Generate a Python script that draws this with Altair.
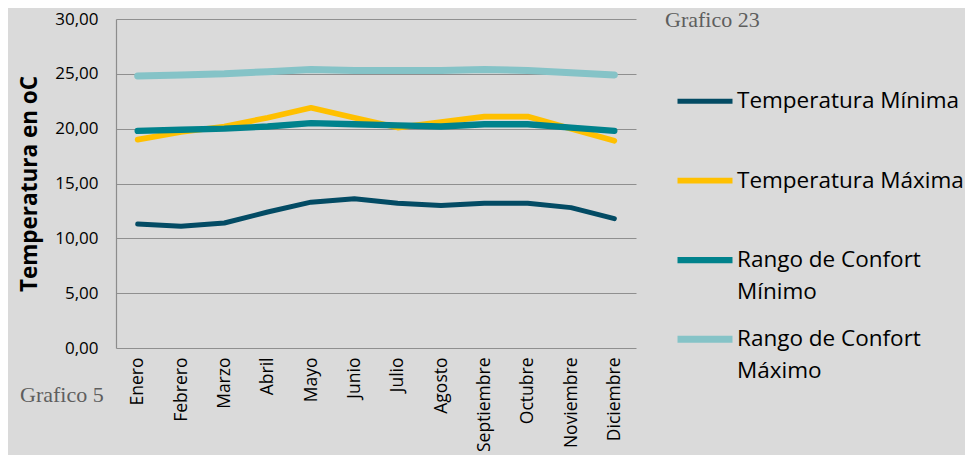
import altair as alt
import pandas as pd

meses = ["Enero", "Febrero", "Marzo", "Abril", "Mayo", "Junio", "Julio",
         "Agosto", "Septiembre", "Octubre", "Noviembre", "Diciembre"]
temp_min = [11.3, 11.1, 11.4, 12.4, 13.3, 13.6, 13.2, 13.0, 13.2, 13.2, 12.8, 11.8]
temp_max = [19.0, 19.7, 20.2, 21.0, 21.9, 21.0, 20.1, 20.6, 21.1, 21.1, 20.0, 18.9]
confort_min = [19.8, 19.9, 20.0, 20.2, 20.5, 20.4, 20.3, 20.2, 20.4, 20.4, 20.1, 19.8]
confort_max = [24.8, 24.9, 25.0, 25.2, 25.4, 25.3, 25.3, 25.3, 25.4, 25.3, 25.1, 24.9]

series = ["Temperatura Mínima", "Temperatura Máxima",
          "Rango de Confort Mínimo", "Rango de Confort Máximo"]
colores = ["#034b64", "#ffc000", "#00828c", "#85c3c7"]
grosores = [5, 7, 5, 5.5]

rows = []
for i, (name, vals) in enumerate(zip(series, [temp_min, temp_max, confort_min, confort_max])):
    for m, v in zip(meses, vals):
        rows.append({"Mes": m, "Valor": v, "Serie": name, "idx": i})
df = pd.DataFrame(rows)

font = "Open Sans"

lines = alt.Chart(df).mark_line(strokeCap="round", strokeJoin="round").encode(
    x=alt.X("Mes:N", sort=meses, scale=alt.Scale(padding=0.5),
            axis=alt.Axis(title=None, labelAngle=-90, labelFontSize=17.5, labelFont=font,
                          labelColor="#000000", domain=False, ticks=False, labelPadding=9,
                          labelAlign="right", labelBaseline="middle", grid=False)),
    y=alt.Y("Valor:Q", scale=alt.Scale(domain=[0, 30], nice=False),
            axis=alt.Axis(title="Temperatura en oC", titleFontSize=22.5, titleFont=font,
                          titleFontWeight="bold", titleColor="#000000", titlePadding=13,
                          labelFontSize=17, labelFont=font, labelColor="#000000",
                          labelExpr="replace(format(datum.value, '.2f'), '.', ',')",
                          values=[0, 5, 10, 15, 20, 25, 30], ticks=False, labelPadding=18,
                          domain=True, domainColor="#8c8c8c", domainWidth=1.2,
                          grid=True, gridColor="#8f8f8f", gridWidth=1.2)),
    color=alt.Color("Serie:N", sort=series,
                    scale=alt.Scale(domain=series, range=colores),
                    legend=alt.Legend(title=None, orient="none", legendX=558, legendY=59,
                                      symbolType="M-1,-0.25L1,-0.25", symbolSize=3025,
                                      symbolStrokeWidth=6,
                                      labelFontSize=22.5, labelFont=font, labelColor="#000000",
                                      labelBaseline="alphabetic",
                                      labelOffset=1, rowPadding=11, gridAlign="all", padding=0,
                                      labelLimit=400,
                                      labelExpr="indexof(datum.label, 'Rango') == 0 ? ['Rango de Confort', substring(datum.label, 17)] : datum.label")),
    strokeWidth=alt.StrokeWidth("Serie:N", scale=alt.Scale(domain=series, range=grosores), legend=None),
    order=alt.Order("idx:Q"),
)

g23 = alt.Chart(pd.DataFrame({"t": ["Grafico 23"]})).mark_text(
    font="Liberation Serif", fontSize=22, color="#5e5e5e", align="left", baseline="middle"
).encode(text="t:N", x=alt.value(549), y=alt.value(1))

g5 = alt.Chart(pd.DataFrame({"t": ["Grafico 5"]})).mark_text(
    font="Liberation Serif", fontSize=22, color="#5e5e5e", align="left", baseline="middle"
).encode(text="t:N", x=alt.value(-96), y=alt.value(376))

chart = alt.layer(lines, g23, g5).properties(
    width=520, height=329,
    autosize=alt.AutoSizeParams(type="none"),
    padding={"left": 108, "top": 11, "right": 329, "bottom": 107},
    background="#dadada",
).configure(
    view=alt.ViewConfig(stroke=None),
    style={"guide-label": {"lineHeight": 32}},
)

chart.save("out.html", embed_options={"renderer": "svg", "actions": False})
